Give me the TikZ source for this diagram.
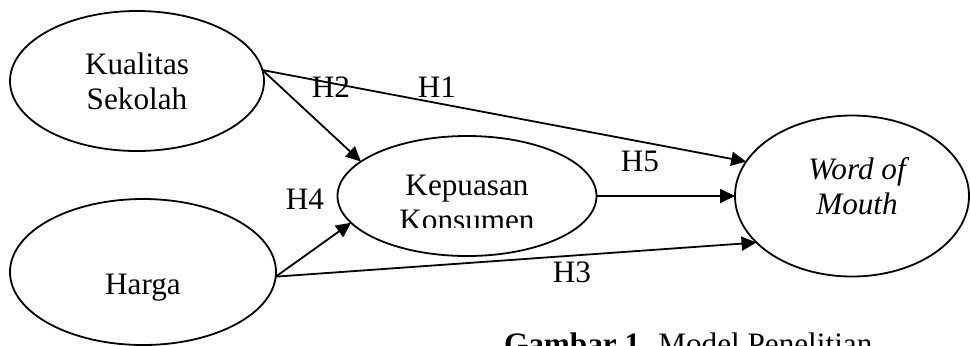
\documentclass[tikz,border=0pt]{standalone}
\usepackage{fontspec}
\setmainfont{Liberation Serif}
\usetikzlibrary{shapes.geometric,arrows.meta}

\begin{document}
\begin{tikzpicture}[x=0.5pt,y=-0.5pt,
  every node/.style={font=\fontsize{15.6}{17.5}\selectfont},
  var/.style={draw,ellipse,line width=0.9pt,inner sep=0pt,outer sep=0pt,align=center},
  path/.style={line width=0.9pt,-{Triangle[length=7.5pt,width=7pt]}}]

% ukuran gambar
\clip (0,0) rectangle (970,345);

% variabel (elips)
\node[var,minimum width=127pt,minimum height=70pt] (ks) at (137,81) {Kualitas\\Sekolah};
\node[var,minimum width=133pt,minimum height=73pt,
  label={[yshift=-8pt]center:Harga}] (hg) at (143,272) {};
\node[var,minimum width=129.5pt,minimum height=60pt] (kp) at (467,196) {};
\node[var,minimum width=117pt,minimum height=80.5pt,
  label={[xshift=2.5pt,yshift=5pt,align=center,font=\fontsize{15.6}{17.5}\selectfont\itshape]center:Word of\\Mouth}] (wom) at (852,196) {};

% teks Kepuasan Konsumen (terpotong)
\begin{scope}
  \clip (330,140) rectangle (600,227);
  \node[align=center] (kptext) at (467,203) {Kepuasan\\Konsumen};
\end{scope}

% panah hipotesis
\draw[path] (ks.5) -- (wom.162);
\draw[path] (ks.5) -- (kp.162);
\draw[path] (hg.-2) -- (wom.206);
\draw[path] (hg.-2) -- (kp.193);
\draw[path] (kp.east) -- (wom.west);

% label hipotesis
\node (h1) at (437,87) {H1};
\node (h2) at (331,87) {H2};
\node (h3) at (572,272) {H3};
\node (h4) at (305,199) {H4};
\node (h5) at (640,161) {H5};

% judul gambar
\node[anchor=base west] (cap) at (497,354) {\textbf{Gambar 1.} Model Penelitian};

\end{tikzpicture}
\end{document}
